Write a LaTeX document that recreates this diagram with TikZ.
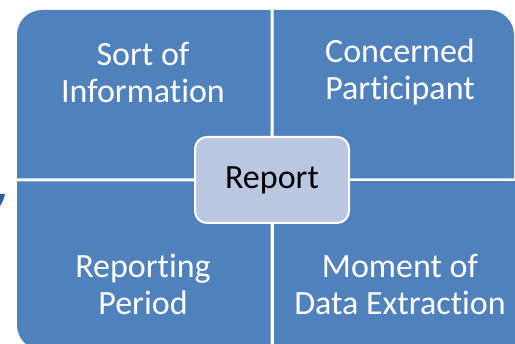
\documentclass[tikz,border=0pt]{standalone}
\usepackage{fontspec}
\setmainfont{Carlito}[Ligatures=NoCommon]
\usepackage{tikz}
\usetikzlibrary{positioning}

\definecolor{quadblue}{RGB}{79,129,189}
\definecolor{centreblue}{RGB}{185,199,225}
\definecolor{markblue}{RGB}{46,92,160}

\tikzset{
  quad/.style={fill=quadblue},
  quadtext/.style={text=white, align=center, font=\fontsize{34}{37}\selectfont},
  centrebox/.style={draw=white, line width=2pt, fill=centreblue, rounded corners=12pt,
    minimum width=154pt, minimum height=86pt, font=\fontsize{34}{37}\selectfont}
}

\begin{document}
\begin{tikzpicture}[x=1pt,y=-1pt]
\useasboundingbox (0,0) rectangle (515,344);

\fill[quad] (270.5,178.5) -- (17,178.5) [rounded corners=25pt] -- (17,10) [sharp corners] -- (270.5,10) -- cycle;
\fill[quad] (273.5,178.5) -- (273.5,10) [rounded corners=25pt] -- (514,10) [sharp corners] -- (514,178.5) -- cycle;
\fill[quad] (270.5,181.5) -- (17,181.5) [rounded corners=25pt] -- (17,350) [sharp corners] -- (270.5,350) -- cycle;
\fill[quad] (273.5,181.5) rectangle (520,350);

\fill[markblue] (0,194) -- (5,194) .. controls (4,199) and (2,203) .. (0,206) -- cycle;

\node[quadtext] (sortinfo) at (143,72) {Sort of\\Information};
\node[quadtext] (participant) at (400,72) {Concerned\\Participant};
\node[quadtext] (period) at (143,284) {Reporting\\Period};
\node[quadtext] (extraction) at (400,284) {Moment of\\Data Extraction};

\node[centrebox] (report) at (272,180) {Report};
\end{tikzpicture}
\end{document}
